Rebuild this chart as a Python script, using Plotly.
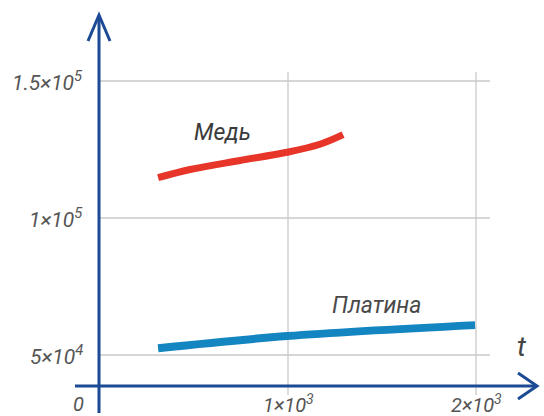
import plotly.graph_objects as go

# ---- data ----
copper_t = [309, 479, 745, 995, 1170, 1293]
copper_rho = [114700, 117700, 121000, 124000, 126900, 130400]
platinum_t = [309, 995, 1995]
platinum_rho = [52500, 56900, 60900]

y_ticks = [50000, 100000, 150000]
y_tick_labels = ["5×10<sup>4</sup>", "1×10<sup>5</sup>", "1.5×10<sup>5</sup>"]
x_ticks = [1000, 2000]
x_tick_labels = ["1×10<sup>3</sup>", "2×10<sup>3</sup>"]

W, H = 544, 416
# pixel mapping of the picture
X_ORIGIN_PX, PX_PER_T = 100, 0.188
Y_REF_VAL, Y_REF_PX, PX_PER_RHO = 50000, 355, 137.0 / 50000

x_range = [(0 - X_ORIGIN_PX) / PX_PER_T, (W - X_ORIGIN_PX) / PX_PER_T]
y_range = [Y_REF_VAL - (H - Y_REF_PX) / PX_PER_RHO, Y_REF_VAL + Y_REF_PX / PX_PER_RHO]

def px(x):
    return x / W

def py(y):
    return 1 - y / H

GRID = "#c9c9c9"
AXIS = "#1d4a94"
TXT = "#555555"

fig = go.Figure()

fig.add_trace(go.Scatter(x=copper_t, y=copper_rho, mode="lines",
                         line=dict(color="#e8352a", width=7, shape="spline", smoothing=1.0),
                         hoverinfo="skip", showlegend=False))
fig.add_trace(go.Scatter(x=platinum_t, y=platinum_rho, mode="lines",
                         line=dict(color="#1385c0", width=8, shape="spline"),
                         hoverinfo="skip", showlegend=False))

shapes = []
# grid lines
for v in y_ticks:
    shapes.append(dict(type="line", xref="paper", yref="y", x0=px(99), x1=px(490),
                       y0=v, y1=v, line=dict(color=GRID, width=1.3), layer="below"))
for v in x_ticks:
    shapes.append(dict(type="line", xref="x", yref="paper", x0=v, x1=v,
                       y0=py(72), y1=py(395), line=dict(color=GRID, width=1.3), layer="below"))
# axes with open arrowheads
shapes.append(dict(type="line", xref="paper", yref="paper", x0=px(99), x1=px(99),
                   y0=py(413), y1=py(16), line=dict(color=AXIS, width=3)))
shapes.append(dict(type="path", xref="paper", yref="paper",
                   path=f"M {px(88)} {py(41)} L {px(99)} {py(15)} L {px(110)} {py(41)}",
                   line=dict(color=AXIS, width=3)))
shapes.append(dict(type="line", xref="paper", yref="paper", x0=px(75), x1=px(536),
                   y0=py(386), y1=py(386), line=dict(color=AXIS, width=3)))
shapes.append(dict(type="path", xref="paper", yref="paper",
                   path=f"M {px(518)} {py(373)} L {px(537)} {py(386)} L {px(518)} {py(399)}",
                   line=dict(color=AXIS, width=3)))

annotations = []
for v, lab in zip(y_ticks, y_tick_labels):
    annotations.append(dict(xref="paper", yref="y", x=px(85), y=v, text=f"<i>{lab}</i>",
                            showarrow=False, xanchor="right", yanchor="middle",
                            font=dict(size=21, color=TXT, family="Roboto")))
for v, lab in zip(x_ticks, x_tick_labels):
    annotations.append(dict(xref="x", yref="paper", x=v, y=py(404), text=f"<i>{lab}</i>",
                            showarrow=False, xanchor="center", yanchor="middle",
                            font=dict(size=20, color=TXT, family="Roboto")))
annotations.append(dict(xref="paper", yref="paper", x=px(78), y=py(404), text="<i>0</i>",
                        showarrow=False, xanchor="center", yanchor="middle",
                        font=dict(size=20, color=TXT, family="Roboto")))
annotations.append(dict(xref="paper", yref="paper", x=px(522), y=py(346), text="<i>t</i>",
                        showarrow=False, xanchor="center", yanchor="middle",
                        font=dict(size=28, color="#444444", family="Roboto")))
annotations.append(dict(xref="paper", yref="paper", x=px(222), y=py(132), text="<i>Медь</i>",
                        showarrow=False, xanchor="center", yanchor="middle",
                        font=dict(size=23, color="#3a3a3a", family="Roboto")))
annotations.append(dict(xref="paper", yref="paper", x=px(376), y=py(305), text="<i>Платина</i>",
                        showarrow=False, xanchor="center", yanchor="middle",
                        font=dict(size=23, color="#4a4a4a", family="Roboto")))

fig.update_layout(
    width=W, height=H, autosize=False,
    margin=dict(l=0, r=0, t=0, b=0),
    paper_bgcolor="white", plot_bgcolor="white",
    xaxis=dict(range=x_range, visible=False, fixedrange=True),
    yaxis=dict(range=y_range, visible=False, fixedrange=True),
    shapes=shapes, annotations=annotations,
)

fig.write_html("out.html", config={"displayModeBar": False},
               post_script="document.body.style.margin='0';document.body.style.overflow='hidden';")
